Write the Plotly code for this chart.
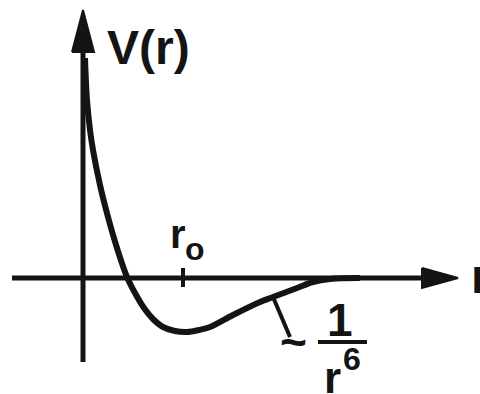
import plotly.graph_objects as go

# Potential curve V(r): sampled points (r in units of r0, V in arbitrary units)
r_vals = [0.02, 0.04, 0.07, 0.10, 0.17, 0.25, 0.34, 0.44, 0.52, 0.61, 0.70, 0.80,
          0.92, 1.04, 1.16, 1.27, 1.50, 1.77, 1.90, 2.14, 2.30, 2.47, 2.77]
v_vals = [2.20, 1.78, 1.48, 1.28, 0.93, 0.61, 0.30, 0.01, -0.15, -0.30, -0.41, -0.49,
          -0.53, -0.54, -0.52, -0.49, -0.37, -0.24, -0.19, -0.10, -0.04, -0.01, 0.00]

# Axis extents
r_axis = [-0.71, 3.42]
v_axis = [2.28, -0.84]
r0 = 1.0

INK = "#141414"
FONT = "Liberation Sans"

fig = go.Figure()

# horizontal (r) axis
fig.add_trace(go.Scatter(x=r_axis, y=[0, 0], mode="lines",
                         line=dict(color=INK, width=5), hoverinfo="skip"))
# vertical (V) axis
fig.add_trace(go.Scatter(x=[0, 0], y=v_axis, mode="lines",
                         line=dict(color=INK, width=5), hoverinfo="skip"))
# arrow heads
fig.add_trace(go.Scatter(x=[3.39, 3.75, 3.39, 3.39], y=[0.10, 0.0, -0.10, 0.10],
                         mode="lines", fill="toself", fillcolor=INK,
                         line=dict(color=INK, width=2), hoverinfo="skip"))
fig.add_trace(go.Scatter(x=[-0.11, 0.0, 0.11, -0.11], y=[2.26, 2.68, 2.26, 2.26],
                         mode="lines", fill="toself", fillcolor=INK,
                         line=dict(color=INK, width=2), hoverinfo="skip"))
# r0 tick
fig.add_trace(go.Scatter(x=[r0, r0], y=[0.10, -0.09], mode="lines",
                         line=dict(color=INK, width=4), hoverinfo="skip"))
# the potential
fig.add_trace(go.Scatter(x=r_vals, y=v_vals, mode="lines",
                         line=dict(color=INK, width=6, shape="spline", smoothing=1.0),
                         hoverinfo="skip"))
# pointer to the 1/r^6 tail
fig.add_trace(go.Scatter(x=[1.90, 2.07], y=[-0.19, -0.59], mode="lines",
                         line=dict(color=INK, width=4), hoverinfo="skip"))
# fraction bar
fig.add_trace(go.Scatter(x=[2.35, 2.84], y=[-0.64, -0.64], mode="lines",
                         line=dict(color=INK, width=4), hoverinfo="skip"))

def label(text, x, y, size, xanchor="left", yanchor="middle"):
    fig.add_annotation(text="<b>" + text + "</b>", x=x, y=y, xref="x", yref="y",
                       showarrow=False, xanchor=xanchor, yanchor=yanchor,
                       font=dict(family=FONT, size=size, color=INK))

label("V(r)", 0.22, 2.31, 48)
label("r", 0.85, 0.44, 40)
label("o", 0.995, 0.29, 32)
label("r", 3.86, 0.02, 48)
label("~", 2.10, -0.64, 46, xanchor="center")
label("1", 2.565, -0.42, 46, xanchor="center")
label("r", 2.39, -0.99, 44)
label("6", 2.58, -0.81, 32)

fig.update_layout(
    width=480, height=394,
    margin=dict(l=0, r=0, t=0, b=0),
    paper_bgcolor="white", plot_bgcolor="white",
    showlegend=False,
    xaxis=dict(range=[-0.83, 3.97], visible=False, fixedrange=True),
    yaxis=dict(range=[-1.16, 2.78], visible=False, fixedrange=True),
)

fig.write_html("out.html")
